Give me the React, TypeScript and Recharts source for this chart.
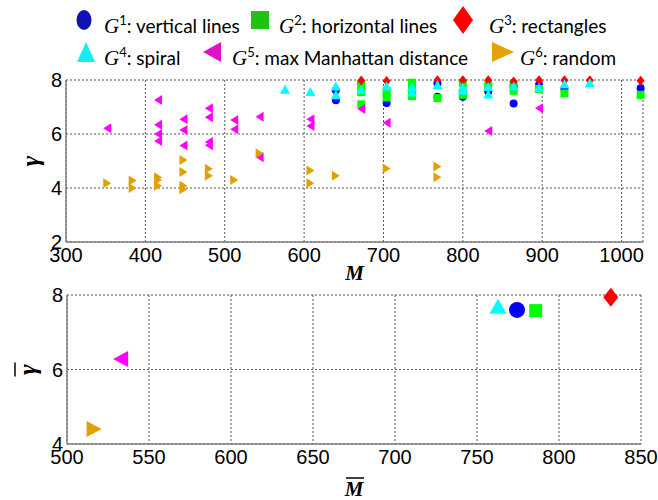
import React from 'react';
import { CartesianGrid, Label, Scatter, ScatterChart, XAxis, YAxis } from 'recharts';

// per-trial values (top panel): M and gamma for each shape family
const g1M = [640, 640, 672, 704, 768, 768, 800, 832, 864, 864, 896, 928, 1024];
const g1Gamma = [7.62, 7.25, 7.89, 7.15, 7.88, 7.38, 7.38, 7.57, 7.79, 7.13, 7.82, 7.67, 7.69];

const g2M = [672, 672, 672, 704, 704, 736, 736, 736, 768, 800, 800, 832, 864, 864, 896, 928, 1024];
const g2Gamma = [7.82, 7.55, 7.1, 7.6, 7.35, 7.9, 7.65, 7.4, 7.33, 7.88, 7.45, 7.8, 7.85, 7.6, 7.67, 7.5, 7.45];

const g3M = [672, 704, 768, 800, 832, 864, 896, 928, 960, 1024];
const g3Gamma = [7.98, 7.96, 7.99, 7.99, 7.99, 7.94, 7.99, 7.99, 7.99, 7.97];

const g4M = [576, 608, 640, 640, 672, 704, 736, 736, 768, 800, 800, 832, 832, 864, 896, 928, 960];
const g4Gamma = [7.66, 7.57, 7.78, 7.45, 7.65, 7.78, 7.75, 7.56, 7.82, 7.75, 7.62, 7.76, 7.48, 7.78, 7.72, 7.86, 7.9];

const g5M = [352, 416, 416, 416, 416, 448, 448, 448, 480, 480, 480, 480, 512, 512, 544, 544, 608, 608, 672, 704, 832, 896];
const g5Gamma = [6.21, 7.26, 6.34, 6.0, 5.74, 6.55, 6.15, 5.57, 6.95, 6.62, 5.7, 5.58, 6.52, 6.18, 6.64, 5.14, 6.55, 6.3, 6.93, 6.42, 6.11, 6.95];

const g6M = [352, 384, 384, 416, 416, 416, 448, 448, 448, 448, 480, 480, 512, 544, 608, 608, 640, 704, 768, 768];
const g6Gamma = [4.18, 4.28, 4.0, 4.4, 4.3, 4.08, 5.04, 4.59, 4.08, 3.95, 4.71, 4.45, 4.3, 5.29, 4.65, 4.18, 4.45, 4.72, 4.8, 4.4];

// averages (bottom panel), order G1..G6
const meanM = [774.4, 785.8, 831.6, 762.8, 532.7, 516.5];
const meanGamma = [7.6, 7.58, 7.94, 7.7, 6.28, 4.4];

const topXTicks = [300, 400, 500, 600, 700, 800, 900, 1000];
const topYTicks = [2, 4, 6, 8];
const bottomXTicks = [500, 550, 600, 650, 700, 750, 800, 850];
const bottomYTicks = [4, 6, 8];

type Kind = 'circle' | 'square' | 'diamond' | 'up' | 'left' | 'right';

const SERIES: { name: string; sup: string; text: string; kind: Kind; color: string; legendColor: string }[] = [
  { name: 'G1', sup: '1', text: ': vertical lines', kind: 'circle', color: '#0000ff', legendColor: '#1212b4' },
  { name: 'G2', sup: '2', text: ': horizontal lines', kind: 'square', color: '#00ff00', legendColor: '#1ec212' },
  { name: 'G3', sup: '3', text: ': rectangles', kind: 'diamond', color: '#ff0000', legendColor: '#ff0000' },
  { name: 'G4', sup: '4', text: ': spiral', kind: 'up', color: '#00ffff', legendColor: '#12eef2' },
  { name: 'G5', sup: '5', text: ': max Manhattan distance', kind: 'left', color: '#ff00ff', legendColor: '#e012c4' },
  { name: 'G6', sup: '6', text: ': random', kind: 'right', color: '#e0a000', legendColor: '#e0a404' },
];

const zip = (ms: number[], gs: number[]) => ms.map((m, i) => ({ m, g: gs[i] }));
const topData = [zip(g1M, g1Gamma), zip(g2M, g2Gamma), zip(g3M, g3Gamma), zip(g4M, g4Gamma), zip(g5M, g5Gamma), zip(g6M, g6Gamma)];
const bottomData = meanM.map((m, i) => [{ m, g: meanGamma[i] }]);

const SMALL: Record<Kind, [number, number]> = {
  circle: [8, 8], square: [8, 8], diamond: [8, 10], up: [10, 9], left: [8, 10], right: [8, 10],
};
const BIG: Record<Kind, [number, number]> = {
  circle: [16, 16], square: [13, 13], diamond: [15, 19], up: [17, 15], left: [15, 16], right: [15, 16],
};

function MarkerShape({ kind, color, w, h, cx, cy }: { kind: Kind; color: string; w: number; h: number; cx: number; cy: number }) {
  const hw = w / 2;
  const hh = h / 2;
  if (kind === 'circle') return <ellipse cx={cx} cy={cy} rx={hw} ry={hh} fill={color} />;
  if (kind === 'square') return <rect x={cx - hw} y={cy - hh} width={w} height={h} fill={color} />;
  let pts = '';
  if (kind === 'diamond') pts = `${cx},${cy - hh} ${cx + hw},${cy} ${cx},${cy + hh} ${cx - hw},${cy}`;
  if (kind === 'up') pts = `${cx},${cy - hh} ${cx + hw},${cy + hh} ${cx - hw},${cy + hh}`;
  if (kind === 'left') pts = `${cx - hw},${cy} ${cx + hw},${cy - hh} ${cx + hw},${cy + hh}`;
  if (kind === 'right') pts = `${cx + hw},${cy} ${cx - hw},${cy - hh} ${cx - hw},${cy + hh}`;
  return <polygon points={pts} fill={color} />;
}

const shapeFor = (kind: Kind, color: string, size: [number, number]) => (p: any) => (
  <MarkerShape kind={kind} color={color} w={size[0]} h={size[1]} cx={p.cx} cy={p.cy} />
);

const tickStyle = { fill: '#000', fontSize: 20, fontFamily: 'Arial, "Liberation Sans", sans-serif' };
const axisStyle = { stroke: '#808080', strokeWidth: 1.5 };
const labelFont = '"Liberation Serif", "Times New Roman", serif';

function Legend() {
  const pos = [
    { mx: 84, tx: 104, y: 20, w: 15, h: 20 },
    { mx: 260, tx: 279, y: 20, w: 18, h: 18 },
    { mx: 463, tx: 489, y: 20, w: 20, h: 28 },
    { mx: 86, tx: 104, y: 52, w: 18, h: 20 },
    { mx: 212, tx: 232, y: 52, w: 18, h: 20 },
    { mx: 503, tx: 520, y: 52, w: 22, h: 20 },
  ];
  return (
    <div style={{ position: 'absolute', left: 0, top: 0, width: 658, height: 70 }}>
      <svg width={658} height={70} style={{ position: 'absolute', left: 0, top: 0 }}>
        {SERIES.map((s, i) => (
          <MarkerShape key={s.name} kind={s.kind} color={s.legendColor} w={pos[i].w} h={pos[i].h} cx={pos[i].mx} cy={pos[i].y} />
        ))}
      </svg>
      {SERIES.map((s, i) => (
        <div
          key={s.name}
          style={{
            position: 'absolute',
            left: pos[i].tx,
            top: pos[i].y - 14,
            height: 28,
            lineHeight: '28px',
            whiteSpace: 'nowrap',
            fontFamily: 'Lato, sans-serif',
            fontSize: 19,
            color: '#000',
          }}
        >
          <span style={{ fontFamily: labelFont, fontStyle: 'italic', fontSize: 21 }}>G</span>
          <span style={{ fontSize: 13, verticalAlign: 8 }}>{s.sup}</span>
          <span>{s.text}</span>
        </div>
      ))}
    </div>
  );
}

export default function App() {
  return (
    <div style={{ position: 'absolute', left: 0, top: 0, width: 658, height: 500, background: '#fff' }}>
      <Legend />
      <div style={{ position: 'absolute', left: 0, top: 0 }}>
        <ScatterChart width={658} height={290} margin={{ top: 80, right: 15, bottom: 18, left: 0 }}>
          <CartesianGrid stroke="#555" strokeDasharray="2 2" />
          <XAxis
            type="number"
            dataKey="m"
            domain={[300, 1027]}
            ticks={topXTicks}
            interval={0}
            height={30}
            tickSize={0}
            tickMargin={6}
            tick={tickStyle}
            axisLine={axisStyle}
            tickLine={false}
          >
            <Label
              content={(p: any) => (
                <text x={p.viewBox.x + p.viewBox.width / 2} y={p.viewBox.y + 31} textAnchor="middle" dominantBaseline="central" fontFamily={labelFont} fontStyle="italic" fontWeight="bold" fontSize={21}>
                  M
                </text>
              )}
            />
          </XAxis>
          <YAxis
            type="number"
            dataKey="g"
            domain={[2, 8]}
            ticks={topYTicks}
            interval={0}
            width={66}
            tickSize={0}
            tickMargin={4}
            tick={tickStyle}
            axisLine={axisStyle}
            tickLine={false}
          >
            <Label
              content={(p: any) => {
                const cy = p.viewBox.y + p.viewBox.height / 2;
                return (
                  <text x={30} y={cy} transform={`rotate(-90, 30, ${cy})`} textAnchor="middle" dominantBaseline="central" fontFamily={labelFont} fontStyle="italic" fontWeight="bold" fontSize={26}>
                    γ
                  </text>
                );
              }}
            />
          </YAxis>
          {SERIES.map((s, i) => (
            <Scatter key={s.name} name={s.name} data={topData[i]} shape={shapeFor(s.kind, s.color, SMALL[s.kind])} isAnimationActive={false} />
          ))}
        </ScatterChart>
      </div>
      <div style={{ position: 'absolute', left: 0, top: 270 }}>
        <ScatterChart width={658} height={230} margin={{ top: 25, right: 17, bottom: 26, left: 0 }}>
          <CartesianGrid stroke="#555" strokeDasharray="2 2" />
          <XAxis
            type="number"
            dataKey="m"
            domain={[500, 850]}
            ticks={bottomXTicks}
            interval={0}
            height={30}
            tickSize={0}
            tickMargin={6}
            tick={tickStyle}
            axisLine={axisStyle}
            tickLine={false}
          >
            <Label
              content={(p: any) => {
                const cx = p.viewBox.x + p.viewBox.width / 2;
                const cy = p.viewBox.y + 45;
                return (
                  <g>
                    <line x1={cx - 8} x2={cx + 10} y1={cy - 11} y2={cy - 11} stroke="#000" strokeWidth={1.5} />
                    <text x={cx} y={cy} textAnchor="middle" dominantBaseline="central" fontFamily={labelFont} fontStyle="italic" fontWeight="bold" fontSize={21}>
                      M
                    </text>
                  </g>
                );
              }}
            />
          </XAxis>
          <YAxis
            type="number"
            dataKey="g"
            domain={[4, 8]}
            ticks={bottomYTicks}
            interval={0}
            width={67}
            tickSize={0}
            tickMargin={4}
            tick={tickStyle}
            axisLine={axisStyle}
            tickLine={false}
          >
            <Label
              content={(p: any) => {
                const cy = p.viewBox.y + p.viewBox.height / 2;
                return (
                  <g>
                    <line x1={15} x2={15} y1={cy - 7} y2={cy + 7} stroke="#000" strokeWidth={1.5} />
                    <text x={27} y={cy} transform={`rotate(-90, 27, ${cy})`} textAnchor="middle" dominantBaseline="central" fontFamily={labelFont} fontStyle="italic" fontWeight="bold" fontSize={26}>
                      γ
                    </text>
                  </g>
                );
              }}
            />
          </YAxis>
          {SERIES.map((s, i) => (
            <Scatter key={s.name} name={s.name} data={bottomData[i]} shape={shapeFor(s.kind, s.color, BIG[s.kind])} isAnimationActive={false} />
          ))}
        </ScatterChart>
      </div>
    </div>
  );
}
